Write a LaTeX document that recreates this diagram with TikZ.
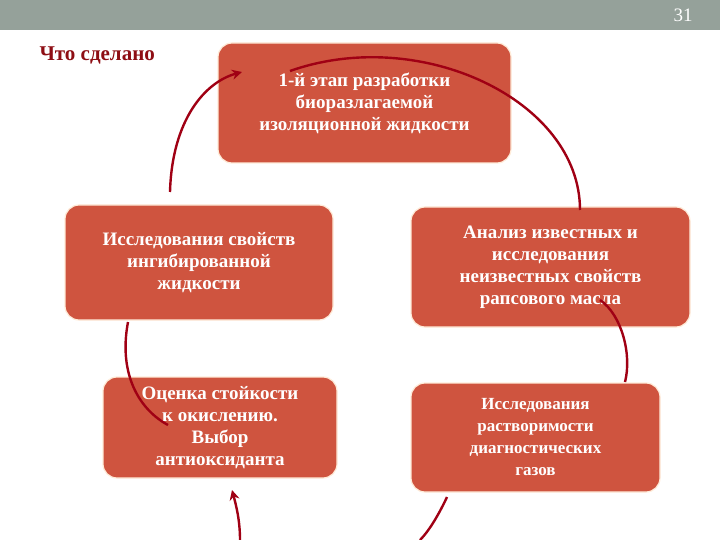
\documentclass[tikz,border=0pt]{standalone}
\usepackage{fontspec}
\setmainfont{Liberation Serif}
\usetikzlibrary{arrows.meta}
\definecolor{boxred}{HTML}{CF543F}
\definecolor{arc}{HTML}{A00014}
\definecolor{bar}{HTML}{95A19A}
\definecolor{title}{HTML}{8E0E14}
\tikzset{
 stepbox/.style={draw=orange!15,line width=1.2pt,fill=boxred,rounded corners=14pt,text=white,font=\bfseries\fontsize{19}{22}\selectfont,align=center,inner sep=2pt},
 cyc/.style={draw=arc,line width=2.4pt},
 cyctip/.style={cyc,-{Stealth[length=10pt,width=10pt]}}
}
\begin{document}
\begin{tikzpicture}[x=1pt,y=-1pt]
\useasboundingbox (0,0) rectangle (720,540);
\fill[white] (0,0) rectangle (720,540);
\fill[bar] (0,0) rectangle (720,30);
\node[text=white,font=\fontsize{19}{20}\selectfont] (num) at (683,15) {31};
\node[text=title,font=\bfseries\fontsize{21}{24}\selectfont,anchor=west] (ttl) at (36,55) {Что сделано};
\node[stepbox,minimum width=293pt,minimum height=120pt] (t) at (364.5,103) {1-й этап разработки\\биоразлагаемой\\изоляционной жидкости};
\node[stepbox,minimum width=268pt,minimum height=115pt] (l1) at (199,262.5) {Исследования свойств\\ингибированной\\жидкости};
\node[stepbox,minimum width=279pt,minimum height=120pt] (r1) at (550.5,267) {Анализ известных и\\исследования\\неизвестных свойств\\рапсового масла};
\node[stepbox,minimum width=234pt,minimum height=101pt] (l2) at (220,427.5) {Оценка стойкости\\к окислению.\\Выбор\\антиоксиданта};
\node[stepbox,minimum width=249pt,minimum height=109pt,font=\bfseries\fontsize{17}{22}\selectfont] (r2) at (535.5,437.5) {Исследования\\растворимости\\диагностических\\газов};
\coordinate (a1) at (170,192); \coordinate (b1) at (242,72);
\coordinate (a2) at (290,71); \coordinate (b2) at (580,210);
\coordinate (a3) at (600,300); \coordinate (b3) at (625,382);
\coordinate (a4) at (447,497); \coordinate (b4) at (420,540);
\coordinate (a5) at (240,540); \coordinate (b5) at (232,490);
\coordinate (a6) at (128,322); \coordinate (b6) at (168,425);
\draw[cyctip] (a1) .. controls (172,120) and (205,82) .. (b1);
\draw[cyc] (a2) .. controls (420,25) and (580,100) .. (b2);
\draw[cyc] (a3) .. controls (622,315) and (632,355) .. (b3);
\draw[cyc] (a4) .. controls (440,512) and (430,530) .. (b4);
\draw[cyctip] (a5) .. controls (240,520) and (236,505) .. (b5);
\draw[cyc] (a6) .. controls (118,375) and (140,410) .. (b6);
\end{tikzpicture}
\end{document}
